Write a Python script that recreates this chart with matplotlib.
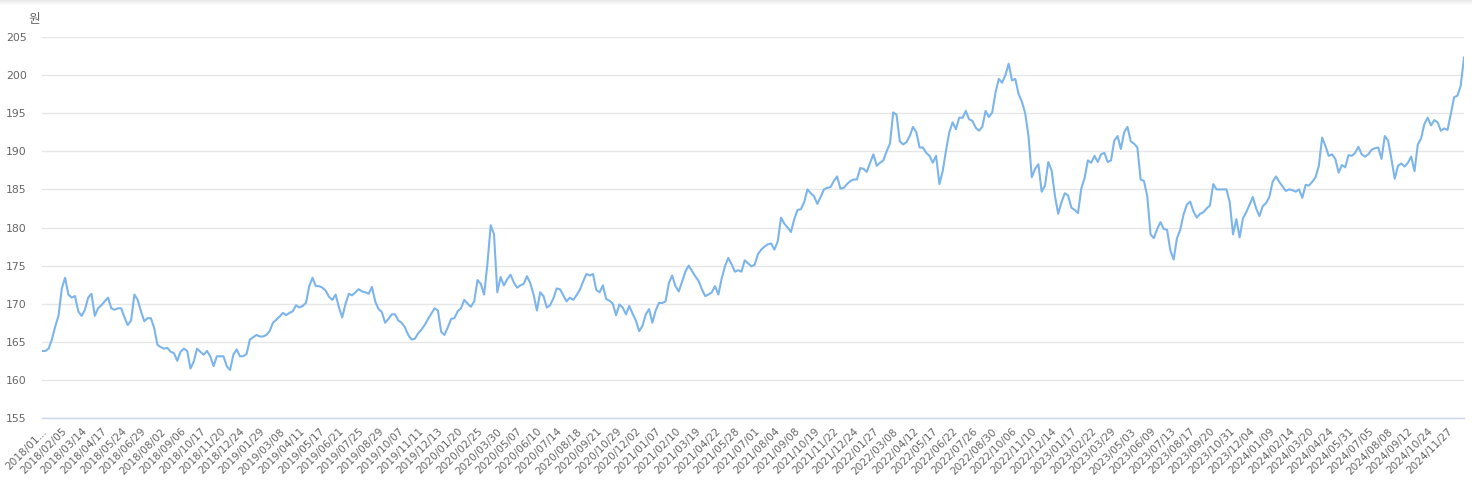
import numpy as np
import matplotlib
matplotlib.use("Agg")
import matplotlib.pyplot as plt
from matplotlib.patches import Rectangle

# ---- data ----
# price (원), sampled every 4 trading days from 2018/01/02 to 2024/12/30
price_2018_2019 = [
    163.8, 163.8, 164.1, 165.3, 167.0, 168.4, 172.0, 173.4, 171.2, 170.8,
    171.0, 169.0, 168.4, 169.2, 170.8, 171.3, 168.4, 169.4, 169.8, 170.3,
    170.8, 169.4, 169.2, 169.4, 169.4, 168.2, 167.2, 167.8, 171.2, 170.5,
    169.0, 167.7, 168.1, 168.1, 166.8, 164.6, 164.3, 164.1, 164.2, 163.7,
    163.5, 162.5, 163.7, 164.1, 163.8, 161.5, 162.4, 164.1, 163.7, 163.3,
    163.8, 163.1, 161.8, 163.1, 163.1, 163.1, 161.8, 161.3, 163.3, 164.0,
    163.1, 163.1, 163.4, 165.3, 165.6, 165.9, 165.7, 165.7, 165.9, 166.4,
    167.5, 167.9, 168.3,
]
price_2019_2020 = [
    168.8, 168.5, 168.8, 169.0, 169.8, 169.5, 169.7, 170.1, 172.3, 173.4,
    172.3, 172.3, 172.1, 171.7, 170.9, 170.5, 171.2, 169.5, 168.2, 170.0,
    171.3, 171.1, 171.5, 171.9, 171.6, 171.5, 171.3, 172.2, 170.3, 169.3,
    168.9, 167.5, 168.0, 168.6, 168.6, 167.8, 167.5, 166.9, 165.9, 165.3,
    165.4, 166.1, 166.6, 167.2, 168.0, 168.7, 169.4, 169.1, 166.3, 165.9,
    166.9, 168.0, 168.1, 169.0, 169.4, 170.5, 170.0, 169.6, 170.3, 173.1,
    172.6, 171.2, 175.2, 180.3, 179.1, 171.5, 173.5, 172.4, 173.2, 173.8,
    172.8, 172.1,
]
price_2020_2021 = [
    172.4, 172.6, 173.6, 172.7, 171.2, 169.1, 171.5, 171.0, 169.5, 169.8,
    170.7, 172.0, 171.9, 171.1, 170.3, 170.8, 170.5, 171.1, 171.8, 172.9,
    173.9, 173.7, 173.9, 171.8, 171.5, 172.4, 170.6, 170.4, 170.0, 168.5,
    169.9, 169.5, 168.6, 169.7, 168.7, 167.8, 166.4, 167.1, 168.6, 169.3,
    167.5, 169.1, 170.1, 170.1, 170.3, 172.7, 173.7, 172.3, 171.6, 172.9,
    174.2, 175.0, 174.3, 173.6, 173.0, 171.9, 171.0, 171.2, 171.5, 172.3,
    171.2, 173.3, 174.9, 176.0, 175.2, 174.2, 174.4, 174.2, 175.7, 175.3,
    174.9, 175.1, 176.5,
]
price_2021_2022 = [
    177.1, 177.5, 177.8, 177.9, 177.1, 178.2, 181.3, 180.5, 180.0, 179.4,
    181.1, 182.3, 182.4, 183.3, 185.0, 184.5, 184.1, 183.1, 184.0, 185.0,
    185.2, 185.3, 186.1, 186.7, 185.1, 185.2, 185.7, 186.1, 186.3, 186.3,
    187.8, 187.7, 187.3, 188.5, 189.6, 188.1, 188.5, 188.8, 190.0, 191.0,
    195.1, 194.8, 191.3, 190.9, 191.2, 192.0, 193.2, 192.5, 190.5, 190.5,
    189.8, 189.4, 188.5, 189.4, 185.7, 187.4, 190.1, 192.5, 193.8, 192.9,
    194.4, 194.4, 195.3, 194.2, 194.0, 193.1, 192.7, 193.2, 195.3, 194.5,
    195.1, 197.7, 199.5,
]
price_2022_2023 = [
    199.0, 200.0, 201.5, 199.3, 199.5, 197.5, 196.5, 195.0, 192.0, 186.6,
    187.7, 188.3, 184.7, 185.5, 188.6, 187.5, 184.2, 181.8, 183.3, 184.5,
    184.2, 182.6, 182.3, 181.9, 185.1, 186.5, 188.8, 188.5, 189.4, 188.6,
    189.6, 189.8, 188.6, 188.8, 191.4, 192.0, 190.3, 192.5, 193.2, 191.3,
    191.0, 190.5, 186.3, 186.1, 184.1, 179.1, 178.6, 179.8, 180.7, 179.8,
    179.7, 177.0, 175.8, 178.6, 179.7, 181.7, 183.0, 183.4, 182.1, 181.3,
    181.8, 182.0, 182.5, 182.9, 185.7, 185.0, 185.0, 185.0, 185.0, 183.3,
    179.1, 181.1, 178.7,
]
price_2023_2024 = [
    181.2, 182.0, 183.0, 184.0, 182.5, 181.5, 182.8, 183.2, 184.0, 186.0,
    186.7, 186.0, 185.4, 184.8, 185.0, 184.9, 184.7, 185.0, 183.9, 185.6,
    185.5, 186.0, 186.6, 188.1, 191.8, 190.7, 189.4, 189.6, 189.0, 187.2,
    188.2, 187.9, 189.5, 189.4, 189.8, 190.6, 189.6, 189.3, 189.6, 190.2,
    190.4, 190.5, 189.0, 192.0, 191.4, 189.0, 186.4, 188.1, 188.4, 188.0,
    188.5, 189.3, 187.4, 190.9, 191.7, 193.6, 194.4, 193.4, 194.1, 193.8,
    192.7, 193.0, 192.8, 194.9, 197.1, 197.3, 198.6, 202.3,
]

tick_labels = [
    "2018/01/02", "2018/02/05", "2018/03/14", "2018/04/17", "2018/05/24", "2018/06/29",
    "2018/08/02", "2018/09/06", "2018/10/17", "2018/11/20", "2018/12/24",
    "2019/01/29", "2019/03/08", "2019/04/11", "2019/05/17", "2019/06/21", "2019/07/25",
    "2019/08/29", "2019/10/07", "2019/11/11", "2019/12/13",
    "2020/01/20", "2020/02/25", "2020/03/30", "2020/05/07", "2020/06/10", "2020/07/14",
    "2020/08/18", "2020/09/21", "2020/10/29", "2020/12/02",
    "2021/01/07", "2021/02/10", "2021/03/19", "2021/04/22", "2021/05/28", "2021/07/01",
    "2021/08/04", "2021/09/08", "2021/10/19", "2021/11/22", "2021/12/24",
    "2022/01/27", "2022/03/08", "2022/04/12", "2022/05/17", "2022/06/22", "2022/07/26",
    "2022/08/30", "2022/10/06", "2022/11/10", "2022/12/14",
    "2023/01/17", "2023/02/22", "2023/03/29", "2023/05/03", "2023/06/09", "2023/07/13",
    "2023/08/17", "2023/09/20", "2023/10/31", "2023/12/04",
    "2024/01/09", "2024/02/14", "2024/03/20", "2024/04/24", "2024/05/31", "2024/07/05",
    "2024/08/08", "2024/09/12", "2024/10/24", "2024/11/27",
]
y_ticks = [155, 160, 165, 170, 175, 180, 185, 190, 195, 200, 205]
unit_label = "원"

SAMPLE_STEP = 4     # trading days between samples
LABEL_STEP = 24     # trading days between axis labels

values = np.array(price_2018_2019 + price_2019_2020 + price_2020_2021 +
                  price_2021_2022 + price_2022_2023 + price_2023_2024)
x = np.arange(len(values)) * SAMPLE_STEP

# ---- figure ----
W, H = 1472, 494
fig = plt.figure(figsize=(W / 100, H / 100), dpi=100)
ax = fig.add_axes([42 / W, 1 - 418 / H, (1464 - 42) / W, (418 - 37) / H])

# top faint shadow
for i, c in enumerate(["#e9e9e9", "#efefef", "#f4f4f4", "#f8f8f8", "#fcfcfc"]):
    fig.add_artist(Rectangle((0, 1 - (i + 1) / H), 1, 1 / H, transform=fig.transFigure,
                             color=c, lw=0, zorder=-5))

ax.plot(x, values, color="#7cb5ec", lw=1.5, solid_joinstyle="round", zorder=3)

ax.set_xlim(0, x[-1])
ax.set_ylim(y_ticks[0], y_ticks[-1])

ax.set_yticks(y_ticks)
ax.set_yticklabels([str(v) for v in y_ticks])
ax.grid(axis="y", color="#e6e6e6", lw=1)
ax.set_axisbelow(True)

tick_pos = np.arange(len(tick_labels)) * LABEL_STEP
shown = [tick_labels[0][:7] + "..."] + tick_labels[1:]
ax.set_xticks(tick_pos)
ax.set_xticklabels(shown, rotation=45, ha="right", va="top", rotation_mode="anchor")

for s in ["left", "right", "top"]:
    ax.spines[s].set_visible(False)
ax.spines["bottom"].set_color("#ccd6eb")
ax.spines["bottom"].set_linewidth(1)

ax.tick_params(axis="y", length=0, pad=11, labelsize=7.8, labelcolor="#666666")
ax.tick_params(axis="x", length=0, pad=6, labelsize=7.6, labelcolor="#666666")
for lab in ax.get_xticklabels() + ax.get_yticklabels():
    lab.set_fontfamily("DejaVu Sans")

fig.text(34 / W, 1 - 20 / H, unit_label, ha="center", va="center",
         fontsize=9.2, color="#666666", family=["Noto Sans CJK KR", "DejaVu Sans"])

fig.savefig("out.png", dpi=100, facecolor="white")
